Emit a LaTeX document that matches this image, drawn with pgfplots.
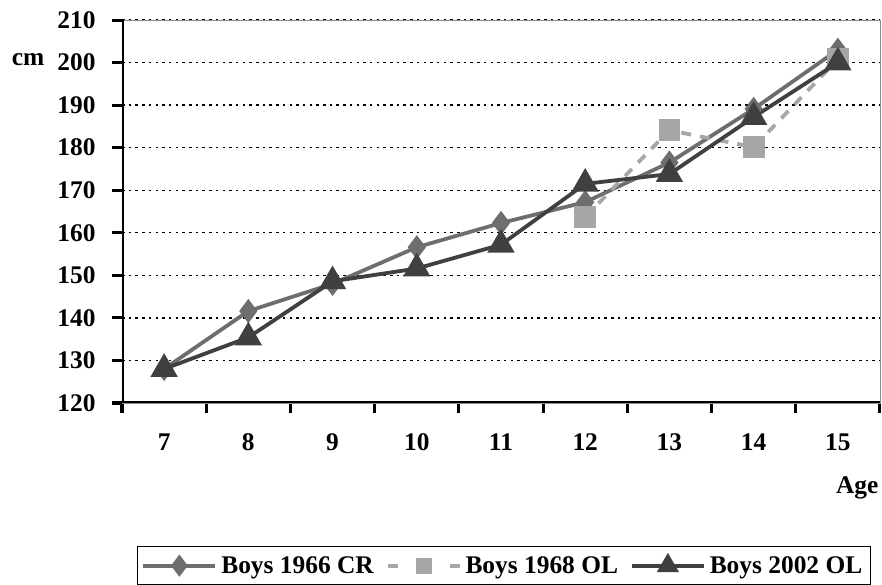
\documentclass[border=0pt]{standalone}
\usepackage{fontspec}
\setmainfont{Liberation Serif}
\usepackage{pgfplots}
\pgfplotsset{compat=1.18}

\definecolor{crgray}{HTML}{6E6E6E}
\definecolor{olgray}{HTML}{A6A6A8}
\definecolor{darkgray}{HTML}{404040}

\newcommand{\chartfont}{\bfseries\fontsize{25.5}{29}\selectfont}

\begin{document}
\begin{tikzpicture}
\useasboundingbox (0,0) rectangle (882bp,585bp);
\begin{axis}[
  at={(122bp,182bp)}, anchor=south west,
  width=758bp, height=383bp, scale only axis,
  xmin=6.5, xmax=15.5,
  ymin=120, ymax=210,
  xtick={6.5,7.5,...,15.5},
  xticklabels={},
  extra x ticks={7,...,15},
  extra x tick labels={7,8,9,10,11,12,13,14,15},
  extra x tick style={major tick length=0pt, grid=none},
  ytick={120,130,...,210},
  xtick pos=bottom, ytick pos=left,
  tick align=outside,
  major tick length=10bp,
  tick style={black, line width=3bp},
  ymajorgrids,
  major grid style={black, line width=1.3bp, dash pattern=on 2.5bp off 4.2bp},
  axis line style={black!45, line width=0.8bp},
  /pgf/number format/assume math mode=true,
  tick label style={font=\chartfont},
  xticklabel shift=27bp,
  yticklabel shift=13bp,
  xlabel={Age}, ylabel={cm},
  every axis x label/.style={at={(rel axis cs:1.0026,-0.222)}, anchor=east, font=\chartfont},
  every axis y label/.style={at={(rel axis cs:-0.124,0.8956)}, anchor=center, font=\chartfont},
  legend columns=3,
  legend style={at={(rel axis cs:0.0198,-0.3734)}, anchor=north west,
    draw=black, line width=1bp, font=\chartfont,
    inner xsep=4bp, inner ysep=8bp,
    nodes={inner xsep=4bp},
    /tikz/every even column/.append style={column sep=8bp}},
  legend image code/.code={%
    \draw[mark repeat=2,mark phase=2,#1] plot coordinates {(0bp,0bp) (36bp,0bp) (72bp,0bp)};},
]
\addplot[crgray, line width=3.8bp, mark=diamond*, mark size=9bp,
  mark options={solid, fill=crgray},
  legend image post style={mark size=8bp}] coordinates {
  (7,128.0) (8,141.6) (9,148.0) (10,156.6) (11,162.3)
  (12,167.2) (13,176.5) (14,189.1) (15,203.0)
};
\addplot[olgray, line width=3.8bp, dash pattern=on 10bp off 9bp, mark=square*, mark size=9bp,
  mark options={solid, fill=olgray},
  legend image post style={mark size=6bp, dash pattern=on 10bp off 52bp}] coordinates {
  (12,163.7) (13,184.1) (14,180.1) (15,200.8)
};
\addplot[darkgray, line width=3.8bp, mark=triangle*, mark size=12bp,
  mark options={solid, fill=darkgray},
  legend image post style={mark size=9bp}] coordinates {
  (7,128.0) (8,135.4) (9,148.6) (10,151.6) (11,157.2)
  (12,171.5) (13,173.8) (14,187.2) (15,200.0)
};
\draw[black, line width=3bp] (rel axis cs:0,1) -- (rel axis cs:0,0) -- (rel axis cs:1,0);
\legend{Boys 1966 CR, Boys 1968 OL, Boys 2002 OL}
\end{axis}
\end{tikzpicture}
\end{document}
